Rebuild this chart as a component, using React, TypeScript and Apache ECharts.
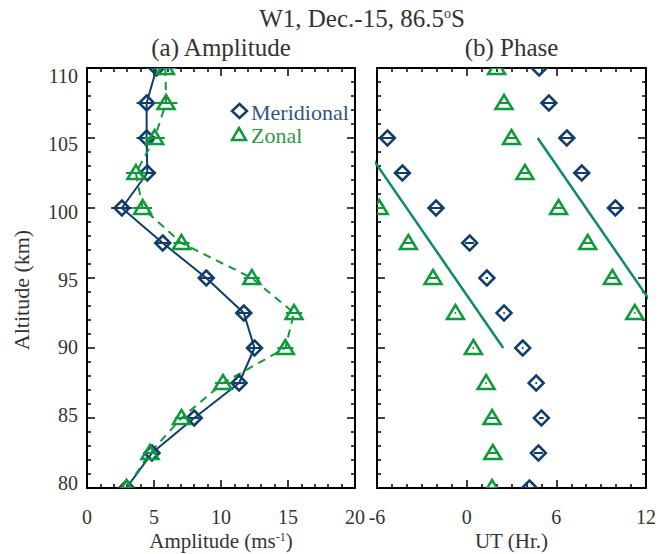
import React, { useEffect, useRef } from "react";
import * as echarts from "echarts";

// ---- data ----
const altitudes = [110, 107.5, 105, 102.5, 100, 97.5, 95, 92.5, 90, 87.5, 85, 82.5, 80];
const ampMer = [5.2, 4.45, 4.45, 4.5, 2.6, 5.65, 8.9, 11.7, 12.5, 11.35, 8.0, 4.85, 2.95];
const ampMerErr = [0.8, 0.75, 0.75, 0.65, 0.8, 0.5, 0.5, 0.5, 0.5, 0.4, 0.4, 0.4, 0.4];
const ampZon = [5.85, 5.9, 5.05, 3.65, 4.15, 7.05, 12.3, 15.45, 14.8, 10.15, 7.05, 4.7, 2.95];
const ampZonErr = [0.85, 0.85, 0.75, 0.75, 0.7, 0.6, 0.6, 0.6, 0.6, 0.6, 0.5, 0.5, 0.5];
const phaseMer = [4.85, 5.5, -5.3, -4.3, -2.05, 0.2, 1.35, 2.5, 3.75, 4.65, 5.0, 4.8, 4.2];
const phaseMerErr = [0.4, 0.45, 0.45, 0.45, 0.45, 0.3, 0.08, 0.05, 0.05, 0.05, 0.15, 0.3, 0.3];
const phaseZon = [2.0, 2.5, 3.0, 3.9, -5.85, -3.9, -2.25, -0.75, 0.45, 1.3, 1.7, 1.75, 1.7];
const phaseZonErr = [0.35, 0.35, 0.35, 0.35, 0.35, 0.35, 0.3, 0.05, 0.05, 0.05, 0.3, 0.3, 0.3];
const phasePeriod = 12; // phases are plotted again one period later
const fitAlt = [105, 90];
const fitPhase = [-7.25, 2.45];

const ampTicks = { min: 0, max: 20, interval: 5 };
const utTicks = { min: -6, max: 12, interval: 6 };
const altTicks = { min: 80, max: 110, interval: 5 };

const NAVY = "#0f3d6d";
const GREEN = "#0f9a3a";
const TEAL = "#0b8a6c";
const TXT = "#333333";
const FONT = "'Liberation Serif', 'Times New Roman', serif";

function triplets(xs: number[], errs: number[]) {
  return xs.map((x, i) => [x, altitudes[i], errs[i]]);
}
function wrapped(xs: number[], errs: number[]) {
  const out: number[][] = [];
  xs.forEach((x, i) => {
    [x, x + phasePeriod, x - phasePeriod].forEach((v) => {
      if (v >= utTicks.min && v <= utTicks.max) out.push([v, altitudes[i], errs[i]]);
    });
  });
  return out;
}

function markerSeries(name: string, data: number[][], grid: number, shape: "diamond" | "triangle", color: string) {
  return {
    name,
    type: "custom",
    coordinateSystem: "cartesian2d",
    xAxisIndex: grid * 2,
    yAxisIndex: grid * 2,
    clip: true,
    z: 5,
    encode: { x: 0, y: 1 },
    data,
    renderItem: (params: any, api: any) => {
      const x = api.value(0);
      const y = api.value(1);
      const e = api.value(2);
      const p = api.coord([x, y]);
      const pl = api.coord([x - e, y]);
      const pr = api.coord([x + e, y]);
      const cx = p[0];
      const cy = p[1];
      const pts =
        shape === "diamond"
          ? [[cx, cy - 7.5], [cx + 7.5, cy], [cx, cy + 7.5], [cx - 7.5, cy]]
          : [[cx, cy - 8], [cx + 8.5, cy + 6], [cx - 8.5, cy + 6]];
      return {
        type: "group",
        children: [
          {
            type: "line",
            shape: { x1: pl[0], y1: cy, x2: pr[0], y2: cy },
            style: { stroke: color, lineWidth: 2 },
          },
          {
            type: "polygon",
            shape: { points: pts },
            style: { fill: "none", stroke: color, lineWidth: 2.5 },
          },
        ],
      };
    },
  };
}

function xAxes(grid: number, t: { min: number; max: number; interval: number }, split: number) {
  const base = {
    gridIndex: grid,
    type: "value",
    min: t.min,
    max: t.max,
    interval: t.interval,
    axisLine: { show: true, onZero: false, lineStyle: { color: "#000", width: 2 } },
    axisTick: { show: true, inside: true, length: 8, lineStyle: { color: "#000", width: 1.5 } },
    minorTick: { show: true, splitNumber: split, length: 4, lineStyle: { color: "#000", width: 1.5 } },
    splitLine: { show: false },
    minorSplitLine: { show: false },
  };
  return [
    {
      ...base,
      position: "bottom",
      axisLabel: { show: true, margin: 19, color: TXT, fontSize: 20, fontFamily: FONT },
    },
    { ...base, position: "top", axisLabel: { show: false } },
  ];
}

function yAxes(grid: number) {
  const base = {
    gridIndex: grid,
    type: "value",
    min: altTicks.min,
    max: altTicks.max,
    interval: altTicks.interval,
    axisLine: { show: true, onZero: false, lineStyle: { color: "#000", width: 2 } },
    axisTick: { show: true, inside: true, length: 8, lineStyle: { color: "#000", width: 1.5 } },
    minorTick: { show: true, splitNumber: 5, length: 4, lineStyle: { color: "#000", width: 1.5 } },
    splitLine: { show: false },
    minorSplitLine: { show: false },
    axisLabel: { show: false },
  };
  return [
    { ...base, position: "left" },
    { ...base, position: "right" },
  ];
}

export default function App() {
  const ref = useRef<HTMLDivElement>(null);
  useEffect(() => {
    document.body.style.margin = "0";
    if (!ref.current) return;
    const chart = echarts.init(ref.current, undefined, { renderer: "svg" });
    const txt = (text: string, x: number, y: number, size: number, extra: any = {}) => ({
      type: "text",
      x,
      y,
      ...extra,
      style: {
        text,
        fontSize: size,
        fontFamily: FONT,
        fill: TXT,
        align: "center",
        verticalAlign: "middle",
        ...(extra.style || {}),
      },
    });
    const option: any = {
      animation: false,
      backgroundColor: "#fff",
      grid: [
        { left: 87, top: 68, width: 268, height: 420 },
        { left: 377, top: 68, width: 269, height: 420 },
        // labels of the altitude axis sit slightly inside the frame's end ticks, as in the reference
        { left: 87, top: 76, width: 268, height: 407 },
      ],
      xAxis: [
        ...xAxes(0, ampTicks, 5),
        ...xAxes(1, utTicks, 6),
        { gridIndex: 2, type: "value", min: 0, max: 1, show: false },
      ],
      yAxis: [
        ...yAxes(0),
        ...yAxes(1),
        {
          gridIndex: 2,
          type: "value",
          position: "left",
          min: altTicks.min,
          max: altTicks.max,
          interval: altTicks.interval,
          axisLine: { show: false },
          axisTick: { show: false },
          splitLine: { show: false },
          axisLabel: { show: true, margin: 9, color: TXT, fontSize: 20, fontFamily: FONT },
        },
      ],
      series: [
        {
          name: "Meridional line",
          type: "line",
          xAxisIndex: 0,
          yAxisIndex: 0,
          showSymbol: false,
          symbol: "none",
          data: ampMer.map((v, i) => [v, altitudes[i]]),
          lineStyle: { color: NAVY, width: 2 },
          z: 3,
        },
        {
          name: "Zonal line",
          type: "line",
          xAxisIndex: 0,
          yAxisIndex: 0,
          showSymbol: false,
          symbol: "none",
          data: ampZon.map((v, i) => [v, altitudes[i]]),
          lineStyle: { color: GREEN, width: 2, type: [8, 6] },
          z: 3,
        },
        markerSeries("Meridional", triplets(ampMer, ampMerErr), 0, "diamond", NAVY),
        markerSeries("Zonal", triplets(ampZon, ampZonErr), 0, "triangle", GREEN),
        {
          name: "Fit",
          type: "line",
          xAxisIndex: 2,
          yAxisIndex: 2,
          showSymbol: false,
          symbol: "none",
          clip: true,
          data: fitPhase.map((v, i) => [v, fitAlt[i]]),
          lineStyle: { color: TEAL, width: 2.5 },
          z: 3,
        },
        {
          name: "Fit (+12 h)",
          type: "line",
          xAxisIndex: 2,
          yAxisIndex: 2,
          showSymbol: false,
          symbol: "none",
          clip: true,
          data: fitPhase.map((v, i) => [v + phasePeriod, fitAlt[i]]),
          lineStyle: { color: TEAL, width: 2.5 },
          z: 3,
        },
        markerSeries("Meridional phase", wrapped(phaseMer, phaseMerErr), 1, "diamond", NAVY),
        markerSeries("Zonal phase", wrapped(phaseZon, phaseZonErr), 1, "triangle", GREEN),
      ],
      graphic: [
        {
          type: "text",
          x: 362,
          y: 18.5,
          style: {
            text: "{n|W1, Dec.-15, 86.5}{s|o}{n|S}",
            align: "center",
            verticalAlign: "middle",
            rich: {
              n: { fontSize: 25, fontFamily: FONT, fill: TXT },
              s: { fontSize: 14, fontFamily: FONT, fill: TXT, verticalAlign: "top", lineHeight: 14 },
            },
          },
        },
        txt("(a) Amplitude", 221, 47, 25),
        txt("(b) Phase", 511.5, 47, 25),
        txt("Altitude (km)", 21, 290, 22, { rotation: Math.PI / 2 }),
        {
          type: "text",
          x: 221,
          y: 541,
          style: {
            text: "{n|Amplitude (ms}{s|-1}{n|)}",
            align: "center",
            verticalAlign: "middle",
            rich: {
              n: { fontSize: 21, fontFamily: FONT, fill: TXT },
              s: { fontSize: 12, fontFamily: FONT, fill: TXT, verticalAlign: "top", lineHeight: 12 },
            },
          },
        },
        txt("UT (Hr.)", 511.5, 541, 21),
        {
          type: "polygon",
          shape: { points: [[239.5, 104], [247, 111], [239.5, 118], [232, 111]] },
          style: { fill: "none", stroke: NAVY, lineWidth: 2.5 },
          z: 10,
        },
        {
          type: "text",
          x: 251,
          y: 112,
          z: 10,
          style: { text: "Meridional", fontSize: 22, fontFamily: FONT, fill: "#2f5685", align: "left", verticalAlign: "middle" },
        },
        {
          type: "polygon",
          shape: { points: [[239, 128], [246, 140], [232, 140]] },
          style: { fill: "none", stroke: GREEN, lineWidth: 2.5 },
          z: 10,
        },
        {
          type: "text",
          x: 251,
          y: 135,
          z: 10,
          style: { text: "Zonal", fontSize: 22, fontFamily: FONT, fill: "#2a9a4a", align: "left", verticalAlign: "middle" },
        },
      ],
    };
    chart.setOption(option);
    return () => chart.dispose();
  }, []);
  return <div ref={ref} style={{ width: 670, height: 554 }} />;
}
